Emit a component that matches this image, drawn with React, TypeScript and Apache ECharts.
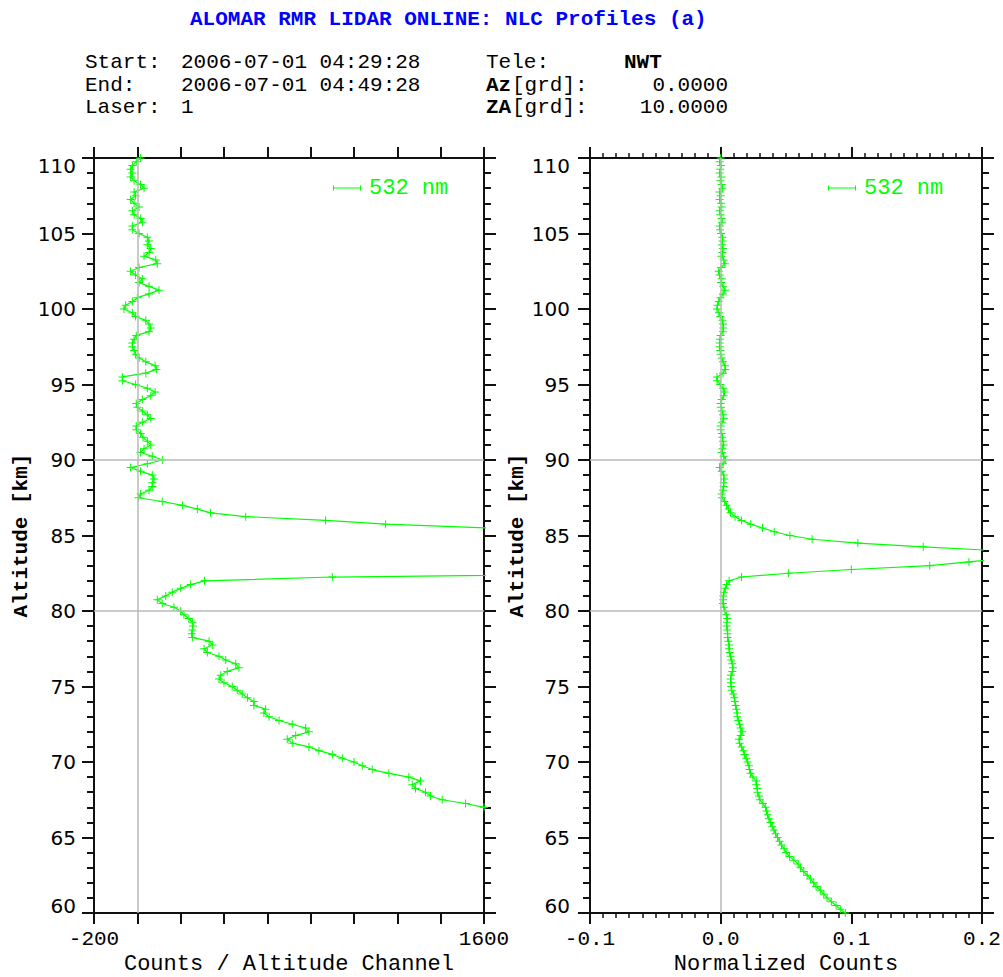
import React, { useEffect, useRef } from "react";
import * as echarts from "echarts";

const TITLE = "ALOMAR RMR LIDAR ONLINE: NLC Profiles (a)";
const START = "2006-07-01 04:29:28";
const END = "2006-07-01 04:49:28";
const LASER = "1";
const TELE = "NWT";
const AZ = "0.0000";
const ZA = "10.0000";
const SERIES_NAME = "532 nm";

// altitude channel grid (km)
const ALT_MIN = 60;
const ALT_MAX = 110;
const ALT_STEP = 0.25;

// Counts / altitude channel, from 60 km upward (4 channels per km)
const COUNTS = [
  4800, 4600, 4400, 4200, // 60
  4000, 3850, 3700, 3550, // 61
  3400, 3250, 3100, 2980, // 62
  2850, 2730, 2610, 2500, // 63
  2400, 2300, 2200, 2110, // 64
  2020, 1940, 1860, 1790, // 65
  1720, 1680, 1650, 1640, // 66
  1600, 1515, 1407, 1353, // 67
  1330, 1284, 1269, 1307, // 68
  1253, 1161, 1084, 1038, // 69
  1000, 946, 900, 838, // 70
  792, 715, 692, 731, // 71
  792, 777, 715, 654, // 72
  608, 584, 592, 538, // 73
  538, 508, 484, 461, // 74
  438, 400, 377, 385, // 75
  415, 469, 454, 408, // 76
  377, 323, 308, 346, // 77
  331, 254, 251, 254, // 78
  257, 254, 238, 215, // 79
  200, 169, 115, 92, // 80
  131, 161, 200, 246, // 81
  310, 900, 2500, 5000, // 82
  7500, 9000, 10500, 11000, // 83
  10000, 7500, 5500, 3500, // 84
  2700, 2200, 1607, 1146, // 85
  869, 500, 338, 277, // 86
  208, 115, 5, 15, // 87
  54, 69, 69, 77, // 88
  69, 15, -31, 46, // 89
  115, 69, 15, 31, // 90
  62, 46, 26, 15, // 91
  -5, -5, 23, 62, // 92
  46, 23, 0, -5, // 93
  23, 62, 82, 46, // 94
  -8, -69, -69, 39, // 95
  88, 82, 39, 8, // 96
  -8, -15, -23, -23, // 97
  -15, -5, 54, 62, // 98
  54, 39, -8, -23, // 99
  -62, -54, -23, 0, // 100
  54, 100, 54, 8, // 101
  23, -8, -31, 8, // 102
  92, 85, 31, 54, // 103
  62, 46, 54, 46, // 104
  8, -23, -23, 23, // 105
  15, -15, -23, 8, // 106
  -15, -31, -8, -15, // 107
  31, 15, -15, -31, // 108
  -23, -31, -23, -5, // 109
  15, // 110
];

// Normalized counts, from 60 km upward
const NORMALIZED = [
  0.0954, 0.0916, 0.0883, 0.0847, // 60
  0.0814, 0.0789, 0.0763, 0.073, // 61
  0.0712, 0.0687, 0.0662, 0.0636, // 62
  0.0611, 0.0593, 0.056, 0.0527, // 63
  0.0501, 0.0486, 0.0466, 0.045, // 64
  0.0435, 0.042, 0.0407, 0.0394, // 65
  0.0382, 0.0369, 0.0359, 0.0351, // 66
  0.0344, 0.0323, 0.03, 0.0293, // 67
  0.0282, 0.028, 0.0272, 0.0272, // 68
  0.0247, 0.0229, 0.0221, 0.0216, // 69
  0.0206, 0.0196, 0.0183, 0.0173, // 70
  0.016, 0.0145, 0.014, 0.0153, // 71
  0.0165, 0.0153, 0.0145, 0.0135, // 72
  0.0127, 0.0127, 0.012, 0.0115, // 73
  0.0109, 0.0104, 0.0097, 0.0084, // 74
  0.0081, 0.0079, 0.0076, 0.0079, // 75
  0.0089, 0.0094, 0.0089, 0.0081, // 76
  0.0076, 0.0069, 0.0064, 0.0064, // 77
  0.0059, 0.0053, 0.0053, 0.0051, // 78
  0.0046, 0.0048, 0.0051, 0.0043, // 79
  0.0033, 0.0025, 0.0018, 0.002, // 80
  0.002, 0.0025, 0.0035, 0.0045, // 81
  0.0065, 0.016, 0.052, 0.1, // 82
  0.16, 0.19, 0.22, 0.24, // 83
  0.21, 0.155, 0.105, 0.07, // 84
  0.053, 0.041, 0.032, 0.023, // 85
  0.016, 0.011, 0.0075, 0.006, // 86
  0.0045, 0.003, 0.001, 0.0008, // 87
  0.0018, 0.0023, 0.0023, 0.0025, // 88
  0.0023, 0.0008, -0.0008, 0.0018, // 89
  0.0038, 0.0023, 0.0008, 0.0013, // 90
  0.0023, 0.0018, 0.0013, 0.0008, // 91
  0, 0, 0.001, 0.0023, // 92
  0.0018, 0.001, 0.0003, 0, // 93
  0.0008, 0.0023, 0.003, 0.0018, // 94
  -0.0003, -0.0028, -0.0028, 0.0018, // 95
  0.0036, 0.0033, 0.0018, 0.0008, // 96
  0, -0.0003, -0.0008, -0.0008, // 97
  -0.0005, 0, 0.0018, 0.002, // 98
  0.0018, 0.0013, -0.0003, -0.0013, // 99
  -0.0028, -0.0025, -0.0015, -0.0003, // 100
  0.0018, 0.0033, 0.0018, 0.0003, // 101
  0.0008, -0.0008, -0.0015, 0.0003, // 102
  0.0033, 0.0023, 0.0005, 0.0013, // 103
  0.0018, 0.001, 0.0015, 0.0013, // 104
  0.0003, -0.0005, -0.0008, 0.001, // 105
  0.0008, -0.0003, -0.0008, 0.0008, // 106
  0.0003, -0.0008, 0, -0.0008, // 107
  0.0013, 0.0008, -0.0003, 0.0005, // 108
  -0.0008, -0.0003, 0.0003, -0.0008, // 109
  0, // 110
];

const ALTITUDES = COUNTS.map((_, i) => ALT_MIN + i * ALT_STEP);

// reference lines drawn in grey
const REF_X = [0];
const REF_ALTS = [80, 90];

const GREEN = "#00ff00";
const AXIS_COLOR = "#111111";
const GREY = "#b8b8b8";
const MONO = '"Liberation Mono", "DejaVu Sans Mono", monospace';
const SANS = '"DejaVu Sans", sans-serif';
const PLUS = "path://M0,3.5h8v1h-8zM3.5,0h1v8h-1z";
const LEGEND_ICON = "path://M0,3h28v1h-28zM0,1h1v5h-1zM27,1h1v5h-1z";

export default function App() {
  const ref = useRef<HTMLDivElement>(null);

  useEffect(() => {
    if (!ref.current) return;
    const chart = echarts.init(ref.current, undefined, { renderer: "svg" });

    const axisLine = { show: true, onZero: false, lineStyle: { color: AXIS_COLOR, width: 2 } };
    const tickStyle = { color: AXIS_COLOR, width: 2 };

    const mkY = (grid: number, pos: "left" | "right", labels: boolean, margin: number) => ({
      type: "value",
      gridIndex: grid,
      position: pos,
      min: ALT_MIN,
      max: ALT_MAX,
      interval: 5,
      axisLine,
      axisTick: { show: true, inside: false, length: 12, lineStyle: tickStyle },
      minorTick: { show: true, splitNumber: 5, length: 7, lineStyle: tickStyle },
      splitLine: { show: false },
      minorSplitLine: { show: false },
      axisLabel: {
        show: labels,
        fontFamily: SANS,
        fontSize: 20,
        lineHeight: 15,
        color: "#000",
        margin,
        verticalAlignMinLabel: "bottom",
        verticalAlignMaxLabel: "top",
      },
      name: labels ? "Altitude [km]" : "",
      nameLocation: "middle",
      nameRotate: 90,
      nameGap: 62,
      nameMoveOverlap: false,
      nameTextStyle: { fontFamily: MONO, fontSize: 21, fontWeight: "bold", color: "#000" },
    });

    const leftX = (pos: "bottom" | "top", labels: boolean) => ({
      type: "value",
      gridIndex: 0,
      position: pos,
      min: -200,
      max: 1600,
      interval: 200,
      axisLine,
      axisTick: { show: true, length: 11, lineStyle: tickStyle },
      splitLine: { show: false },
      axisLabel: {
        show: labels,
        fontFamily: MONO,
        fontSize: 21,
        lineHeight: 18,
        color: "#000",
        margin: 17,
        formatter: (v: number) => (v === -200 || v === 1600 ? String(v) : ""),
      },
      name: labels ? "Counts / Altitude Channel" : "",
      nameLocation: "middle",
      nameGap: 41,
      nameMoveOverlap: false,
      nameTextStyle: { fontFamily: MONO, fontSize: 22, lineHeight: 20, color: "#000" },
    });

    const rightX = (pos: "bottom" | "top", labels: boolean) => ({
      type: "value",
      gridIndex: 1,
      position: pos,
      min: -0.1,
      max: 0.2,
      interval: 0.1,
      axisLine,
      axisTick: { show: true, length: 11, lineStyle: tickStyle },
      minorTick: { show: true, splitNumber: 10, length: 5, lineStyle: { color: AXIS_COLOR, width: 1.5 } },
      splitLine: { show: false },
      minorSplitLine: { show: false },
      axisLabel: {
        show: labels,
        fontFamily: MONO,
        fontSize: 21,
        lineHeight: 18,
        color: "#000",
        margin: 17,
        formatter: (v: number) => (Math.abs(v) < 1e-9 ? 0 : v).toFixed(1),
      },
      name: labels ? "Normalized Counts" : "",
      nameLocation: "middle",
      nameGap: 41,
      nameMoveOverlap: false,
      nameTextStyle: { fontFamily: MONO, fontSize: 22, lineHeight: 20, color: "#000" },
    });

    const mainSeries = (idx: number, values: number[]) => ({
      type: "line",
      name: SERIES_NAME,
      xAxisIndex: idx === 0 ? 0 : 2,
      yAxisIndex: idx === 0 ? 0 : 2,
      data: values.map((v, i) => [v, ALTITUDES[i]]),
      symbol: PLUS,
      symbolSize: 8,
      showSymbol: true,
      clip: true,
      z: 3,
      lineStyle: { color: GREEN, width: 1.2 },
      itemStyle: { color: GREEN },
      emphasis: { disabled: true },
    });

    const refSeries = (idx: number, values: number[]) => ({
      type: "line",
      name: "ref" + idx,
      xAxisIndex: idx === 0 ? 0 : 2,
      yAxisIndex: idx === 0 ? 0 : 2,
      data: values.map((v, i) => [v, ALTITUDES[i]]),
      symbol: "none",
      z: 1,
      lineStyle: { opacity: 0 },
      silent: true,
      markLine: {
        silent: true,
        symbol: "none",
        label: { show: false },
        lineStyle: { color: GREY, width: 1.5, type: "solid" },
        data: [...REF_X.map((x) => ({ xAxis: x })), ...REF_ALTS.map((a) => ({ yAxis: a }))],
      },
    });

    const legend = (left: number) => ({
      left,
      top: 177,
      padding: 0,
      selectedMode: false,
      itemWidth: 28,
      itemHeight: 7,
      itemGap: 0,
      data: [{ name: SERIES_NAME, icon: LEGEND_ICON }],
      itemStyle: { color: GREEN, borderWidth: 0 },
      textStyle: { color: GREEN, fontFamily: MONO, fontSize: 22, padding: [0, 0, 0, 3] },
    });

    const txt = (text: string, x: number, y: number, opts: any = {}) => ({
      type: "text",
      x,
      y,
      style: {
        text,
        font: `${opts.bold ? "bold " : ""}21px ${MONO}`,
        lineHeight: 19,
        fill: opts.fill || "#000",
        align: opts.align || "left",
        verticalAlign: "middle",
      },
    });

    const grid = (left: number, width: number) => ({
      left,
      top: 158,
      width,
      height: 755,
      containLabel: false,
      outerBoundsMode: "none",
    });

    chart.setOption({
      animation: false,
      backgroundColor: "#ffffff",
      grid: [grid(94, 390), grid(590, 392)],
      xAxis: [leftX("bottom", true), leftX("top", false), rightX("bottom", true), rightX("top", false)],
      yAxis: [mkY(0, "left", true, 18), mkY(0, "right", false, 18), mkY(1, "left", true, 20), mkY(1, "right", false, 20)],
      legend: [legend(333), legend(828)],
      series: [refSeries(0, COUNTS), refSeries(1, NORMALIZED), mainSeries(0, COUNTS), mainSeries(1, NORMALIZED)],
      graphic: [
        txt(TITLE, 190, 19, { fill: "#0000ff", bold: true }),
        txt("Start:", 85, 62),
        txt(START, 181, 62),
        txt("Tele:", 486, 62),
        txt(TELE, 624, 62, { bold: true }),
        txt("End:", 85, 85),
        txt(END, 181, 85),
        txt("Az", 486, 85, { bold: true }),
        txt("[grd]:", 512, 85),
        txt(AZ, 728, 85, { align: "right" }),
        txt("Laser:", 85, 107),
        txt(LASER, 181, 107),
        txt("ZA", 486, 107, { bold: true }),
        txt("[grd]:", 512, 107),
        txt(ZA, 728, 107, { align: "right" }),
      ],
    });

    return () => chart.dispose();
  }, []);

  return (
    <div
      ref={ref}
      style={{ position: "absolute", left: 0, top: 0, width: 1003, height: 977, background: "#fff" }}
    />
  );
}
